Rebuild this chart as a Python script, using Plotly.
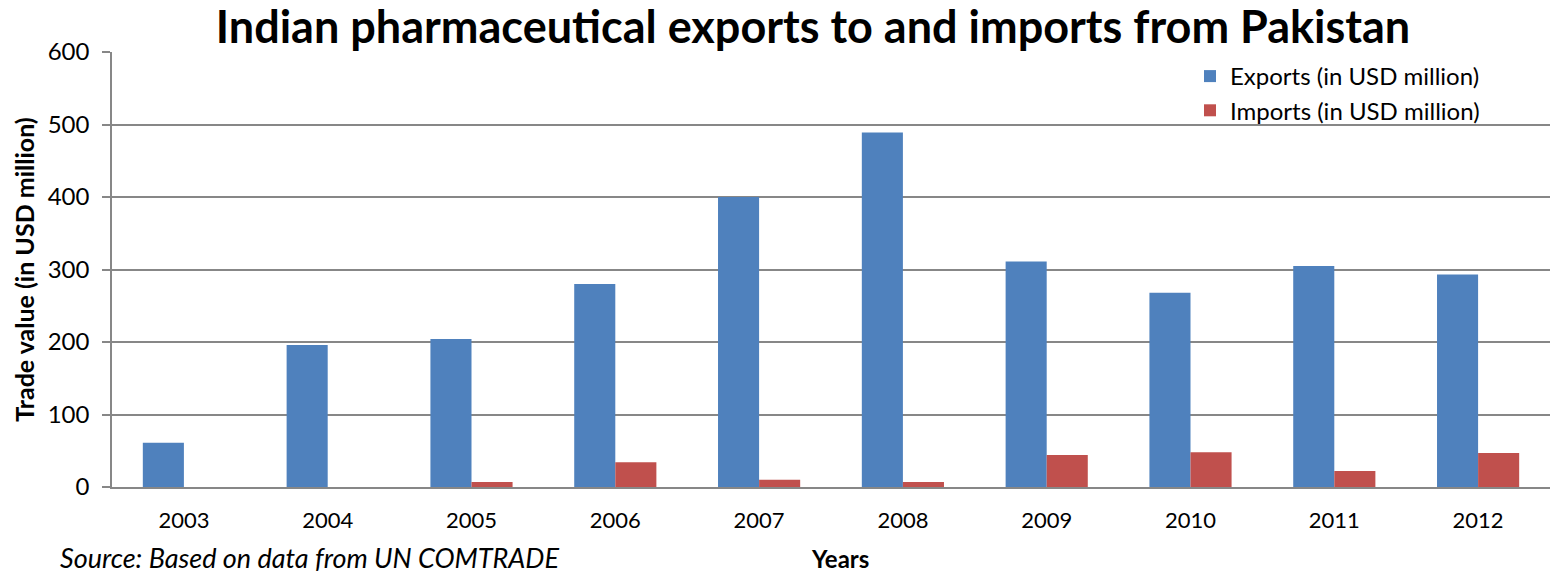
import plotly.graph_objects as go

years = ["2003", "2004", "2005", "2006", "2007", "2008", "2009", "2010", "2011", "2012"]
exports = [61, 196, 204, 280, 400, 489, 311, 268, 305, 293]
imports = [0, 0, 7, 34, 10, 7, 44, 48, 22, 47]
yticks = [0, 100, 200, 300, 400, 500, 600]

FONT = "Lato"
fig = go.Figure()
fig.add_trace(go.Bar(x=years, y=exports, name="Exports (in USD million)",
                     marker=dict(color="#4F81BD", line=dict(width=0))))
fig.add_trace(go.Bar(x=years, y=imports, name="Imports (in USD million)",
                     marker=dict(color="#C0504D", line=dict(width=0))))

W, H = 1564, 574
L, R, T, B = 112, 14, 52, 87
PW, PH = W - L - R, H - T - B

fig.update_layout(
    width=W, height=H,
    margin=dict(l=L, r=R, t=T, b=B),
    paper_bgcolor="white", plot_bgcolor="white",
    barmode="group", bargap=0.4286, bargroupgap=0,
    font=dict(family=FONT, color="black", size=22),
    title=dict(text="<b>Indian pharmaceutical exports to and imports from Pakistan</b>",
               x=813 / W, xanchor="center", y=1 - 27 / H, yanchor="middle",
               font=dict(size=45, family=FONT, color="black")),
    legend=dict(x=(1190 - L) / PW, y=1 - (54 - T) / PH,
                xanchor="left", yanchor="top", bgcolor="rgba(0,0,0,0)",
                font=dict(size=24, family=FONT), tracegroupgap=0, itemwidth=30),
    xaxis=dict(showline=True, linecolor="#878787", linewidth=1.5, ticks="",
               tickfont=dict(size=22), ticklabelstandoff=13),
    yaxis=dict(range=[0, 600], tickvals=yticks, showgrid=True, gridcolor="#878787",
               gridwidth=1.5, showline=True, linecolor="#878787", linewidth=1.5,
               ticks="outside", ticklen=8, tickcolor="#878787", tickwidth=1.5,
               tickfont=dict(size=24), zeroline=False, ticklabelstandoff=8,
               title=dict(text="<b>Trade value (in USD million)</b>", font=dict(size=25), standoff=6)),
)

fig.add_annotation(text="<i>Source: Based on data from UN COMTRADE</i>", xref="paper", yref="paper",
                   x=(58 - L) / PW, y=-(557 - (H - B)) / PH, xanchor="left", yanchor="middle",
                   showarrow=False, font=dict(size=27, family=FONT))
fig.add_annotation(text="<b>Years</b>", xref="paper", yref="paper",
                   x=(840 - L) / PW, y=-(558 - (H - B)) / PH, xanchor="center", yanchor="middle",
                   showarrow=False, font=dict(size=24, family=FONT))

fig.write_html("out.html")
